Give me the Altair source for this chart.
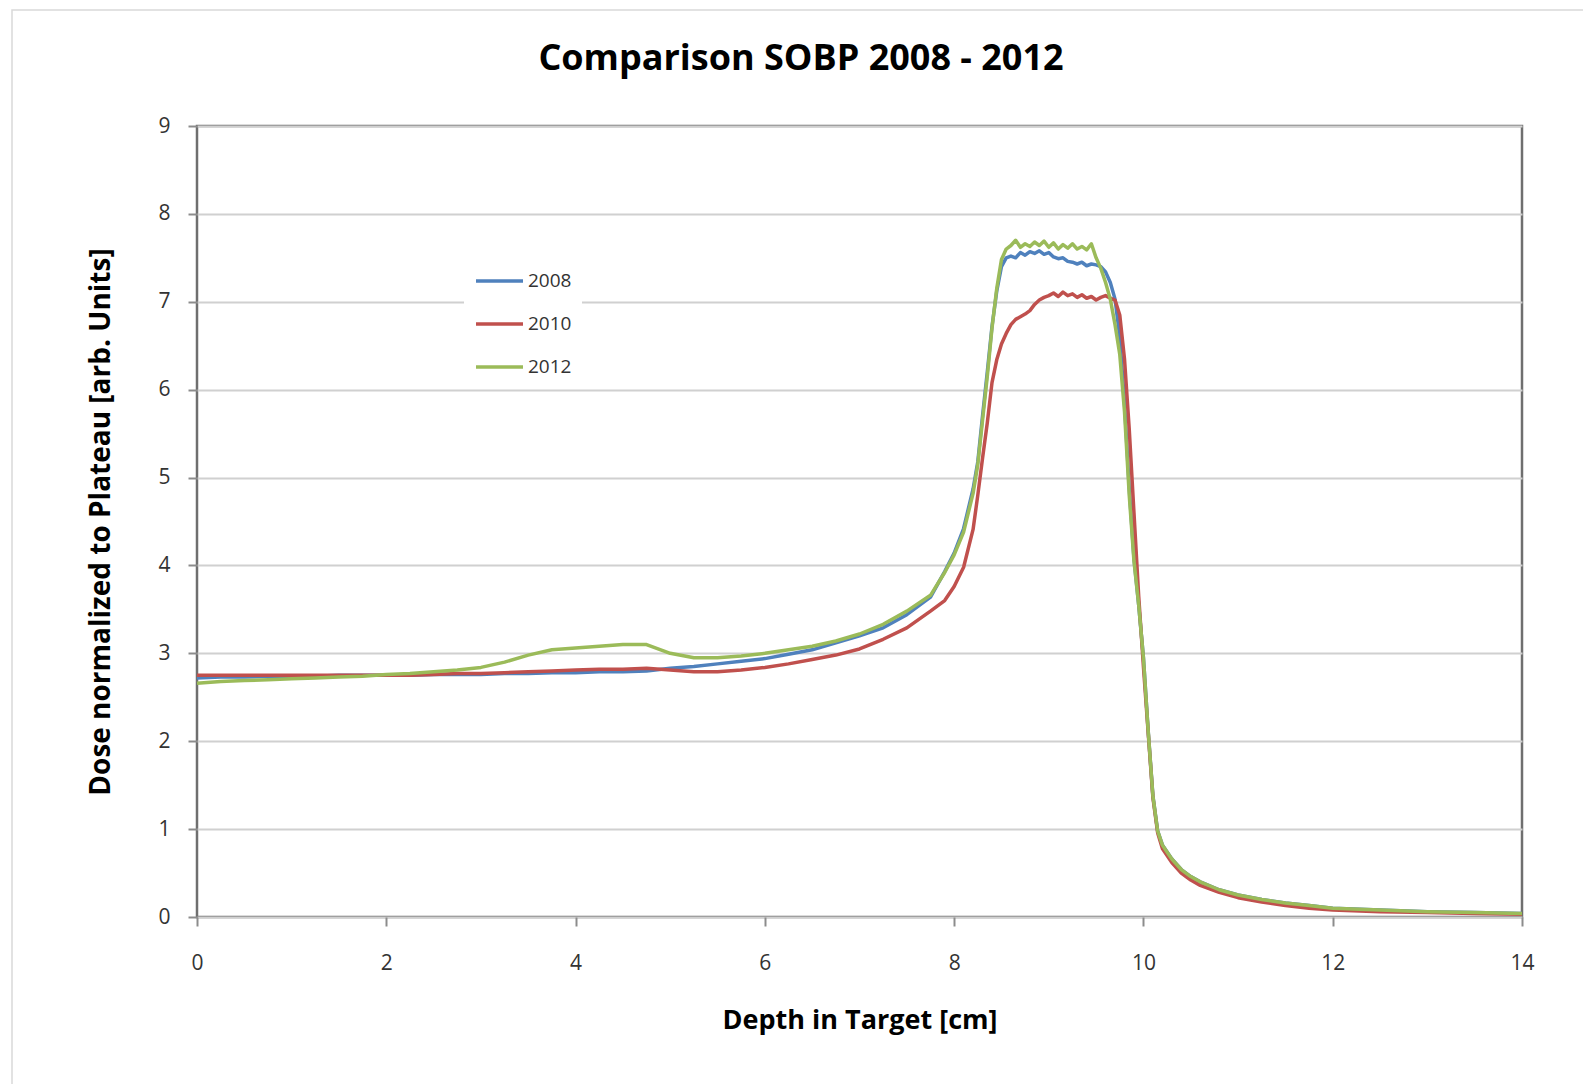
import altair as alt
import pandas as pd

# Depth grid (cm) shared by all three measurements
depth_cm = (
    [0.0, 0.25, 0.5, 0.75, 1.0, 1.25, 1.5, 1.75, 2.0, 2.25, 2.5, 2.75, 3.0, 3.25, 3.5, 3.75,
     4.0, 4.25, 4.5, 4.75, 5.0, 5.25, 5.5, 5.75, 6.0, 6.25, 6.5, 6.75, 7.0, 7.25, 7.5, 7.75]
    + [7.9, 8.0, 8.1, 8.2]
    + [8.25, 8.3, 8.35, 8.4, 8.45, 8.5, 8.55, 8.6, 8.65, 8.7, 8.75, 8.8, 8.85, 8.9, 8.95,
       9.0, 9.05, 9.1, 9.15, 9.2, 9.25, 9.3, 9.35, 9.4, 9.45, 9.5, 9.55, 9.6, 9.65, 9.7]
    + [9.75, 9.8, 9.85, 9.9, 9.95, 10.0, 10.05, 10.1, 10.15, 10.2]
    + [10.3, 10.4, 10.5, 10.6, 10.8, 11.0, 11.25, 11.5, 11.75, 12.0, 12.5, 13.0, 13.5, 14.0]
)

dose_2008 = (
    [2.72, 2.73, 2.73, 2.74, 2.74, 2.74, 2.75, 2.75, 2.75, 2.75, 2.76, 2.76, 2.76, 2.77, 2.77, 2.78,
     2.78, 2.79, 2.79, 2.80, 2.83, 2.85, 2.88, 2.91, 2.94, 2.99, 3.04, 3.12, 3.20, 3.29, 3.44, 3.64]
    + [3.93, 4.14, 4.42, 4.87]
    + [5.18, 5.70, 6.20, 6.72, 7.12, 7.40, 7.50, 7.52, 7.50, 7.56, 7.53, 7.57, 7.55, 7.58, 7.54,
       7.56, 7.51, 7.49, 7.50, 7.46, 7.45, 7.43, 7.45, 7.41, 7.43, 7.42, 7.40, 7.34, 7.22, 7.03]
    + [6.60, 5.85, 4.88, 4.08, 3.55, 2.95, 2.12, 1.38, 0.98, 0.82]
    + [0.66, 0.54, 0.46, 0.40, 0.31, 0.25, 0.20, 0.16, 0.13, 0.10, 0.08, 0.06, 0.05, 0.04]
)

dose_2010 = (
    [2.75, 2.75, 2.75, 2.75, 2.75, 2.75, 2.75, 2.75, 2.75, 2.75, 2.76, 2.77, 2.77, 2.78, 2.79, 2.80,
     2.81, 2.82, 2.82, 2.83, 2.81, 2.79, 2.79, 2.81, 2.84, 2.88, 2.93, 2.98, 3.05, 3.16, 3.29, 3.48]
    + [3.60, 3.76, 3.98, 4.41]
    + [4.80, 5.22, 5.62, 6.08, 6.34, 6.52, 6.64, 6.74, 6.80, 6.83, 6.86, 6.90, 6.97, 7.02, 7.05,
       7.07, 7.10, 7.06, 7.11, 7.07, 7.09, 7.05, 7.08, 7.04, 7.06, 7.02, 7.05, 7.07, 7.04, 7.02]
    + [6.85, 6.35, 5.55, 4.60, 3.65, 2.85, 2.10, 1.36, 0.96, 0.78]
    + [0.62, 0.50, 0.42, 0.36, 0.28, 0.22, 0.17, 0.13, 0.10, 0.08, 0.06, 0.05, 0.04, 0.03]
)

dose_2012 = (
    [2.66, 2.68, 2.69, 2.70, 2.71, 2.72, 2.73, 2.74, 2.76, 2.77, 2.79, 2.81, 2.84, 2.90, 2.98, 3.04,
     3.06, 3.08, 3.10, 3.10, 3.00, 2.95, 2.95, 2.97, 3.00, 3.04, 3.08, 3.14, 3.22, 3.33, 3.48, 3.66]
    + [3.92, 4.12, 4.38, 4.82]
    + [5.15, 5.65, 6.15, 6.70, 7.15, 7.48, 7.60, 7.64, 7.70, 7.62, 7.66, 7.63, 7.68, 7.64, 7.69,
       7.62, 7.67, 7.60, 7.65, 7.61, 7.66, 7.60, 7.63, 7.59, 7.66, 7.50, 7.38, 7.22, 7.03, 6.74]
    + [6.40, 5.75, 4.80, 4.05, 3.55, 2.95, 2.12, 1.38, 0.98, 0.82]
    + [0.66, 0.54, 0.46, 0.40, 0.31, 0.25, 0.20, 0.16, 0.13, 0.10, 0.08, 0.06, 0.05, 0.04]
)

years = ["2008", "2010", "2012"]
year_colors = ["#4F81BD", "#C0504D", "#9BBB59"]
x_ticks = [0, 2, 4, 6, 8, 10, 12, 14]
y_ticks = [0, 1, 2, 3, 4, 5, 6, 7, 8, 9]
chart_title = "Comparison SOBP 2008 - 2012"
x_title = "Depth in Target [cm]"
y_title = "Dose normalized to Plateau [arb. Units]"

for series in (dose_2008, dose_2010, dose_2012):
    assert len(series) == len(depth_cm)

rows = []
for year, series in zip(years, [dose_2008, dose_2010, dose_2012]):
    for d, v in zip(depth_cm, series):
        rows.append({"year": year, "depth": d, "dose": v})
df = pd.DataFrame(rows)

W, H = 1325, 791
FONT = "Open Sans"

lines = alt.Chart(df).mark_line(strokeWidth=3.5, strokeJoin="round").encode(
    x=alt.X(
        "depth:Q",
        scale=alt.Scale(domain=[0, 14], nice=False),
        axis=alt.Axis(
            values=x_ticks, title=x_title, grid=False, labelFlush=False,
            labelPadding=26, titleY=103, titleBaseline="middle", titleFontSize=27,
        ),
    ),
    y=alt.Y(
        "dose:Q",
        scale=alt.Scale(domain=[0, 9], nice=False),
        axis=alt.Axis(
            values=y_ticks, title=y_title, grid=True, labelFlush=False,
            labelPadding=18, titleX=-96, titleBaseline="middle", titleFontSize=28,
        ),
    ),
    color=alt.Color(
        "year:N",
        scale=alt.Scale(domain=years, range=year_colors),
        legend=alt.Legend(
            title=None, orient="none", legendX=267, legendY=135, direction="vertical",
            symbolType="stroke", symbolSize=2209, symbolStrokeWidth=3.5,
            clipHeight=20, rowPadding=23, labelFont=FONT, labelFontSize=19,
            labelColor="#333333", labelOffset=3, fillColor="white", padding=10,
        ),
    ),
)

# Chart title, centred over the whole chart area
title_df = pd.DataFrame({"label": [chart_title]})
title_mark = alt.Chart(title_df).mark_text(
    font=FONT, fontSize=36, fontWeight="bold", color="black",
    align="center", baseline="middle",
).encode(x=alt.value(604), y=alt.value(-67), text="label:N")

# Light outline of the chart area
outline_df = pd.DataFrame({"k": [0]})
outline = alt.Chart(outline_df).mark_rect(
    fillOpacity=0, stroke="#d9d9d9", strokeWidth=1.5
).encode(
    x=alt.value(-185), x2=alt.value(W + 80),
    y=alt.value(-116), y2=alt.value(H + 200),
)

chart = (
    alt.layer(outline, lines, title_mark)
    .properties(
        width=W, height=H,
        autosize=alt.AutoSizeParams(type="none"),
        padding={"left": 197, "top": 126, "right": 61, "bottom": 167},
        background="white",
    )
    .configure_view(stroke="#6f6f6f", strokeWidth=2.5)
    .configure_axis(
        domain=False,
        tickColor="#8c8c8c", tickWidth=2, tickSize=9,
        gridColor="#d0d0d0", gridWidth=2,
        labelFont=FONT, labelFontSize=21, labelColor="#333333",
        titleFont=FONT, titleFontWeight="bold", titleColor="black",
    )
)

chart.save("out.html", embed_options={"renderer": "svg", "actions": False})
